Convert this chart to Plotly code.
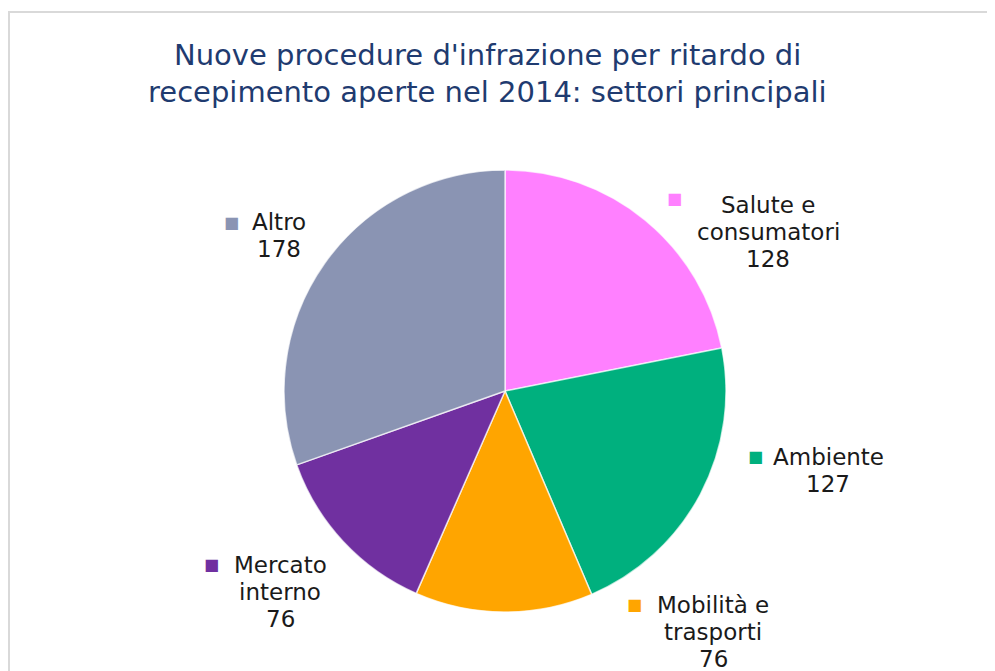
import plotly.graph_objects as go

categories = ["Salute e consumatori", "Ambiente", "Mobilità e trasporti", "Mercato interno", "Altro"]
values = [128, 127, 76, 76, 178]
label_lines = [["Salute e", "consumatori"], ["Ambiente"], ["Mobilità e", "trasporti"], ["Mercato", "interno"], ["Altro"]]
colors = ["#FF80FF", "#00B07E", "#FFA500", "#7030A0", "#8A94B3"]

W, H = 995, 671
OFF = 8  # page body margin

def px(x):
    return (x - OFF) / W

def py(y):
    return 1 - (y - OFF) / H

fig = go.Figure()
cx, cy, r = 505, 391, 221
fig.add_trace(go.Pie(
    labels=categories, values=values, sort=False, direction="clockwise", rotation=0,
    marker=dict(colors=colors, line=dict(color="rgba(255,255,255,0.7)", width=1.5)),
    textinfo="none", hoverinfo="label+value", showlegend=False,
    domain=dict(x=[px(cx - r), px(cx + r)], y=[py(cy + r), py(cy - r)]),
))

# label block positions: (center x of text, first line y, square x, square y)
label_pos = [(768, 205, 674, 199), (828, 457, 755, 456), (713, 605, 634, 604), (280, 565, 211, 564), (279, 222, 231, 222)]
font = "DejaVu Sans, Verdana, sans-serif"
ann = []
for lines, v, c, (tx, ty, sx, sy) in zip(label_lines, values, colors, label_pos):
    all_lines = lines + [str(v)]
    for i, t in enumerate(all_lines):
        ann.append(dict(x=px(tx), y=py(ty + 27 * i), xref="paper", yref="paper", text=t,
                        showarrow=False, xanchor="center", yanchor="middle",
                        font=dict(family=font, size=23, color="#1A1A1A")))
    ann.append(dict(x=px(sx), y=py(sy), xref="paper", yref="paper", text="■",
                    showarrow=False, xanchor="center", yanchor="middle",
                    font=dict(family=font, size=16, color=c)))

title_lines = ["Nuove procedure d'infrazione per ritardo di", "recepimento aperte nel 2014: settori principali"]
for i, t in enumerate(title_lines):
    ann.append(dict(x=px(487), y=py(55 + 37 * i), xref="paper", yref="paper", text=t,
                    showarrow=False, xanchor="center", yanchor="middle",
                    font=dict(family=font, size=29, color="#1F3B70")))

fig.update_layout(
    width=W, height=H, margin=dict(l=0, r=0, t=0, b=0),
    paper_bgcolor="white", plot_bgcolor="white",
    annotations=ann,
    shapes=[dict(type="rect", xref="paper", yref="paper", x0=px(8) + 0.001, x1=1.05, y0=-0.05, y1=py(12),
                 line=dict(color="#D9D9D9", width=2), fillcolor="rgba(0,0,0,0)", layer="below")],
)

fig.write_html("out.html")
